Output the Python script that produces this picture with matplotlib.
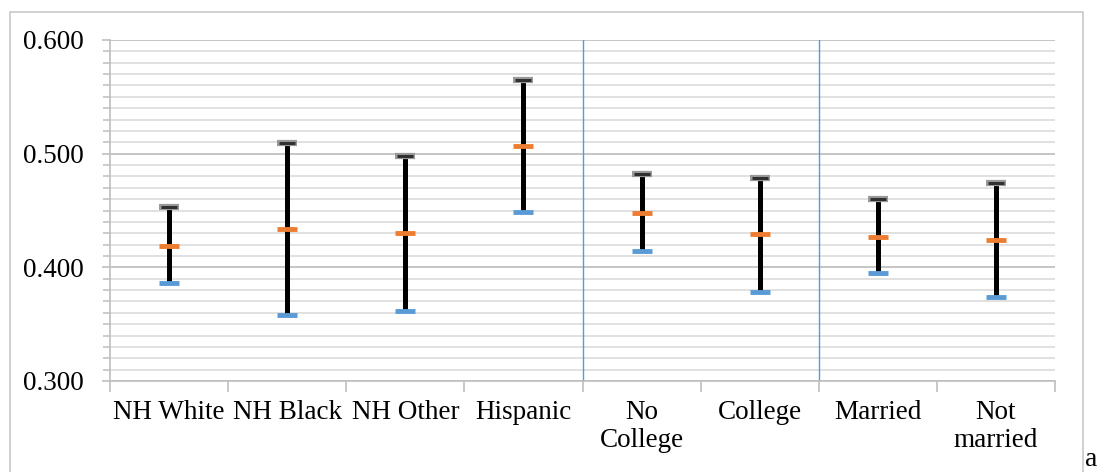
import numpy as np
import matplotlib
matplotlib.use("Agg")
import matplotlib.pyplot as plt
from matplotlib.patches import Rectangle
from matplotlib.ticker import MultipleLocator, FixedLocator, FormatStrFormatter

# ── data ──────────────────────────────────────────────────────────────────
categories = ["NH White", "NH Black", "NH Other", "Hispanic",
              "No\nCollege", "College", "Married", "Not\nmarried"]
upper = [0.453, 0.509, 0.498, 0.565, 0.482, 0.479, 0.460, 0.474]
mid   = [0.419, 0.434, 0.430, 0.507, 0.448, 0.429, 0.427, 0.424]
lower = [0.386, 0.358, 0.362, 0.449, 0.414, 0.378, 0.395, 0.374]
group_breaks = [3.5, 5.5]   # separators between race / education / marital

plt.rcParams["font.family"] = ["Liberation Serif", "DejaVu Serif"]

fig = plt.figure(figsize=(11.08, 4.72), dpi=100)
ax = fig.add_axes([110/1108, 1 - 381/472, 945/1108, 341/472])

# outer chart border
fig.patches.append(Rectangle((10/1108, -0.05), 1073/1108, 1 - 12/472 + 0.05,
                             transform=fig.transFigure, fill=False,
                             edgecolor="#c8c8c8", linewidth=1.2, clip_on=False))

x = np.arange(len(categories))

# gridlines
ax.set_ylim(0.3, 0.6)
ax.set_xlim(-0.5, len(categories) - 0.5)
ax.yaxis.set_major_locator(MultipleLocator(0.1))
ax.yaxis.set_minor_locator(MultipleLocator(0.01))
ax.grid(True, which="minor", axis="y", color="#d9d9d9", linewidth=1.1)
ax.grid(True, which="major", axis="y", color="#c0c0c0", linewidth=1.3)
ax.set_axisbelow(True)

for b in group_breaks:
    ax.axvline(b, color="#5b9bd5", linewidth=1.0, zorder=1)

# error bars
ax.vlines(x, lower, upper, color="black", linewidth=3.6, zorder=3)
ax.plot(x, upper, ls="none", marker="_", ms=15, mew=4.5, color="#9a9a9a", zorder=4)
ax.plot(x, upper, ls="none", marker="_", ms=12, mew=2.2, color="#303030", zorder=5)
ax.plot(x, mid, ls="none", marker="_", ms=15, mew=3.5, color="#ed7d31", zorder=5)
ax.plot(x, lower, ls="none", marker="_", ms=15, mew=3.5, color="#5b9bd5", zorder=5)

# axes styling
for s in ("top", "right"):
    ax.spines[s].set_visible(False)
for s in ("left", "bottom"):
    ax.spines[s].set_color("#bfbfbf")
    ax.spines[s].set_linewidth(1.2)

ax.yaxis.set_major_formatter(FormatStrFormatter("%.3f"))
ax.tick_params(axis="y", which="major", length=6, color="#bfbfbf", width=1.2,
               labelsize=19.5, pad=13)
ax.tick_params(axis="y", which="minor", length=5, color="#bfbfbf", width=1.1)

ax.xaxis.set_major_locator(FixedLocator(np.arange(-0.5, len(categories), 1.0)))
ax.xaxis.set_minor_locator(FixedLocator(x))
ax.set_xticklabels([])
ax.set_xticklabels(categories, minor=True, linespacing=1.12)
ax.tick_params(axis="x", which="major", length=8, color="#bfbfbf", width=1.2)
ax.tick_params(axis="x", which="minor", length=0, labelsize=19.5, pad=14)

fig.text(1085/1108, 0.5/472, "a", fontsize=20, ha="left", va="bottom")

fig.savefig("out.png", dpi=100)
